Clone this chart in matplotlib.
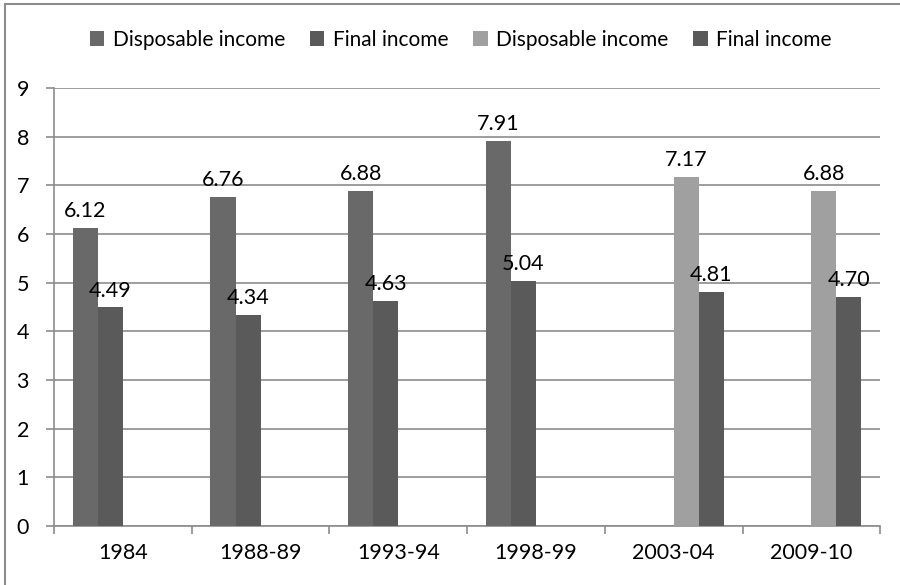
import matplotlib.pyplot as plt
import numpy as np
from matplotlib.lines import Line2D
from matplotlib.ticker import FixedLocator

plt.rcParams['font.family'] = ['Lato', 'DejaVu Sans']

categories = ["1984", "1988-89", "1993-94", "1998-99", "2003-04", "2009-10"]
disp_old = [6.12, 6.76, 6.88, 7.91, np.nan, np.nan]
final_old = [4.49, 4.34, 4.63, 5.04, np.nan, np.nan]
disp_new = [np.nan, np.nan, np.nan, np.nan, 7.17, 6.88]
final_new = [np.nan, np.nan, np.nan, np.nan, 4.81, 4.70]

series = [
    ("Disposable income", disp_old, "#696969"),
    ("Final income", final_old, "#5a5a5a"),
    ("Disposable income", disp_new, "#a0a0a0"),
    ("Final income", final_new, "#5a5a5a"),
]

fig = plt.figure(figsize=(9, 5.85), dpi=100)
ax = fig.add_axes([0.06, 0.1009, 0.918, 0.7487])

x = np.arange(len(categories))
gap = 1.5
w = 1 / (len(series) + gap)
for i, (name, vals, color) in enumerate(series):
    pos = x - 0.5 + gap * w / 2 + (i + 0.5) * w
    vals = np.array(vals, dtype=float)
    ax.bar(pos, vals, width=w, color=color, label=name, zorder=3)
    for p, v in zip(pos, vals):
        if not np.isnan(v):
            ax.annotate(f"{v:.2f}", (p, v), xytext=(0, 5), textcoords="offset points",
                        ha="center", va="bottom", fontsize=15.5, zorder=4)

ax.set_xlim(-0.5, len(categories) - 0.5)
ax.set_ylim(0, 9)
ax.set_yticks(range(0, 10))
ax.set_xticks(x)
ax.set_xticklabels(categories)
ax.xaxis.set_minor_locator(FixedLocator(np.arange(-0.5, len(categories), 1)))
ax.tick_params(axis="x", which="major", length=0, pad=12, labelsize=15.5)
ax.tick_params(axis="x", which="minor", length=6, color="#8c8c8c", width=1.2)
ax.tick_params(axis="y", length=6, color="#8c8c8c", width=1.2, labelsize=15.5, pad=12)
ax.grid(axis="y", color="#8c8c8c", linewidth=1.2, zorder=0)
for s in ["top", "right"]:
    ax.spines[s].set_visible(False)
for s in ["left", "bottom"]:
    ax.spines[s].set_color("#8c8c8c")
    ax.spines[s].set_linewidth(1.2)

handles, labels = ax.get_legend_handles_labels()
fig.legend(handles, labels, loc="center", bbox_to_anchor=(0.512, 0.932), ncol=4,
           frameon=False, fontsize=15, handlelength=0.7, handleheight=0.7,
           handletextpad=0.4, columnspacing=1.2)

fig.add_artist(Line2D([0.006, 1], [0.993, 0.993], color="#8c8c8c", linewidth=1.5))
fig.add_artist(Line2D([0.006, 0.006], [0, 0.993], color="#8c8c8c", linewidth=1.5))

fig.savefig("out.png", dpi=100)
plt.close(fig)
